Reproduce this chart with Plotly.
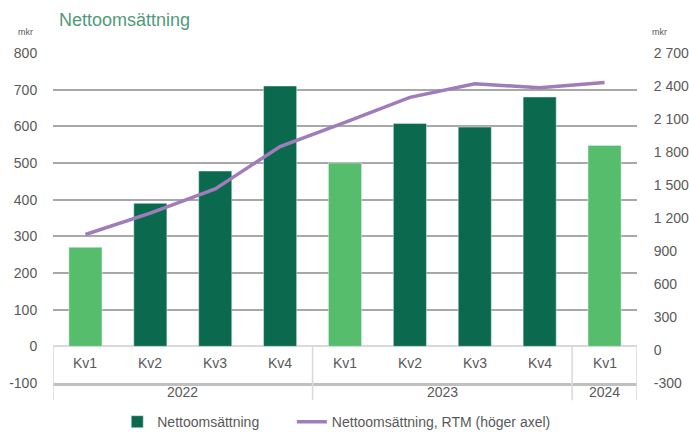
import plotly.graph_objects as go

quarters = ["Kv1", "Kv2", "Kv3", "Kv4", "Kv1", "Kv2", "Kv3", "Kv4", "Kv1"]
years = ["2022", "2022", "2022", "2022", "2023", "2023", "2023", "2023", "2024"]
net_sales = [270, 390, 478, 710, 500, 608, 598, 680, 548]
net_sales_rtm = [1050, 1245, 1465, 1850, 2070, 2297, 2420, 2385, 2432]

left_ticks = [-100, 0, 100, 200, 300, 400, 500, 600, 700, 800]
right_ticks = [-300, 0, 300, 600, 900, 1200, 1500, 1800, 2100, 2400, 2700]

DARK = "#0B6A4E"
LIGHT = "#56BD6D"
PURPLE = "#A07CBB"
TXT = "#595959"
FONT = "Liberation Sans"

idx = list(range(len(quarters)))
ymin, ymax = left_ticks[0], left_ticks[-1]

dark_x = [i for i in idx if quarters[i] != "Kv1"]
dark_y = [net_sales[i] for i in dark_x]
light_x = [i for i in idx if quarters[i] == "Kv1"]
light_y = [net_sales[i] for i in light_x]

fig = go.Figure()
fig.add_trace(go.Bar(x=dark_x, y=dark_y, marker_color=DARK, width=0.51,
                     name="Nettoomsättning", showlegend=True, legend="legend"))
fig.add_trace(go.Bar(x=light_x, y=light_y, marker_color=LIGHT, width=0.51,
                     name="Nettoomsättning", showlegend=False))
fig.add_trace(go.Scatter(x=idx, y=net_sales_rtm, yaxis="y2", mode="lines",
                         line=dict(color=PURPLE, width=3.5), legend="legend2",
                         name="Nettoomsättning, RTM (höger axel)"))

annotations = []
for i, q in enumerate(quarters):
    annotations.append(dict(x=i, y=-45, xref="x", yref="y", text=q, showarrow=False,
                            font=dict(size=14, color=TXT, family=FONT)))

# year groups
groups = []
for i, yv in enumerate(years):
    if groups and groups[-1][0] == yv:
        groups[-1][2] = i
    else:
        groups.append([yv, i, i])
zero_frac = (0 - ymin) / (ymax - ymin)
shapes = []
bounds = set()
for yv, s, e in groups:
    annotations.append(dict(x=(s + e) / 2, y=-0.028, xref="x", yref="paper", text=yv,
                            showarrow=False, yanchor="middle",
                            font=dict(size=14, color=TXT, family=FONT)))
    bounds.add(s - 0.5)
    bounds.add(e + 0.5)
for b in sorted(bounds):
    shapes.append(dict(type="line", xref="x", yref="paper", x0=b, x1=b,
                       y0=-0.052, y1=zero_frac, line=dict(color="#d9d9d9", width=1.5)))

annotations.append(dict(x=0, y=1, xref="paper", yref="paper", text="mkr", showarrow=False,
                        xanchor="right", yanchor="bottom", xshift=-18, yshift=14,
                        font=dict(size=9, color=TXT, family=FONT)))
annotations.append(dict(x=1, y=1, xref="paper", yref="paper", text="mkr", showarrow=False,
                        xanchor="left", yanchor="bottom", xshift=13, yshift=14,
                        font=dict(size=9, color=TXT, family=FONT)))
annotations.append(dict(x=0, y=1, xref="paper", yref="paper", text="Nettoomsättning",
                        showarrow=False, xanchor="left", yanchor="middle",
                        xshift=4, yshift=33,
                        font=dict(size=18, color="#4f9a78", family=FONT)))

left_text = [str(v) for v in left_ticks]
right_text = [f"{v:,}".replace(",", " ") for v in right_ticks]

legend_common = dict(orientation="h", yref="container", y=0.06, yanchor="top",
                     xanchor="left",
                     font=dict(size=14, color=TXT, family=FONT), itemwidth=30,
                     bgcolor="rgba(0,0,0,0)")

fig.update_layout(
    width=689, height=432,
    margin=dict(l=53, r=52, t=53, b=49),
    paper_bgcolor="white", plot_bgcolor="white",
    barmode="overlay",
    font=dict(family=FONT, color=TXT, size=14),
    xaxis=dict(range=[-0.5, len(quarters) - 0.5], showticklabels=False, showgrid=False,
               zeroline=False, showline=True, linecolor="#c0c0c0", linewidth=2.5,
               ticks="", fixedrange=True, automargin=False),
    yaxis=dict(range=[ymin, ymax], tickvals=left_ticks, ticktext=left_text, showgrid=True,
               gridcolor="#a8a8a8", gridwidth=1.5, zeroline=True,
               zerolinecolor="#d9d9d9", zerolinewidth=1.5, automargin=False,
               ticks="outside", ticklen=12, tickcolor="rgba(0,0,0,0)",
               tickfont=dict(size=14, color=TXT, family=FONT)),
    yaxis2=dict(range=[right_ticks[0], right_ticks[-1]], tickvals=right_ticks,
                ticktext=right_text, overlaying="y", side="right", showgrid=False,
                zeroline=False, ticks="outside", ticklen=13, tickcolor="rgba(0,0,0,0)",
                automargin=False,
                tickfont=dict(size=14, color=TXT, family=FONT)),
    legend=dict(x=0.110, **legend_common),
    legend2=dict(x=0.409, **legend_common),
    annotations=annotations,
    shapes=shapes,
)

fig.write_html("out.html", config={"displayModeBar": False},
               post_script="document.body.style.margin='0';document.body.style.overflow='hidden';")
